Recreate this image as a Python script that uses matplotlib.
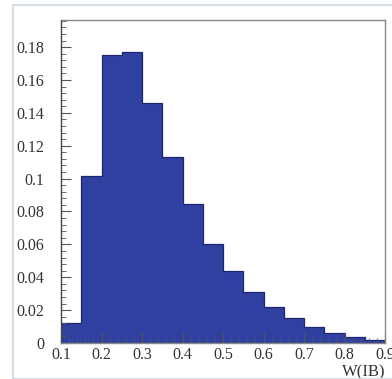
import numpy as np
import matplotlib.pyplot as plt
from matplotlib.patches import Rectangle
from matplotlib.ticker import MultipleLocator

# bin edges of W(IB) and normalised bin contents
bin_edges = [0.10, 0.15, 0.20, 0.25, 0.30, 0.35, 0.40, 0.45, 0.50,
             0.55, 0.60, 0.65, 0.70, 0.75, 0.80, 0.85, 0.90]
bin_values = [0.0123, 0.1018, 0.1750, 0.1768, 0.1460, 0.1133, 0.0843, 0.0600,
              0.0440, 0.0312, 0.0221, 0.0150, 0.0099, 0.0059, 0.0038, 0.0018]
x_ticks = [0.1, 0.2, 0.3, 0.4, 0.5, 0.6, 0.7, 0.8, 0.9]
y_ticks = [0, 0.02, 0.04, 0.06, 0.08, 0.1, 0.12, 0.14, 0.16, 0.18]

plt.rcParams['font.family'] = ['Liberation Serif', 'DejaVu Serif']

fig = plt.figure(figsize=(3.92, 3.79), dpi=100)
fig.patches.append(Rectangle((13 / 392, 0), 1.0, 1 - 5 / 379, transform=fig.transFigure,
                             fill=False, edgecolor='#d5dee5', linewidth=1.5))
ax = fig.add_axes([61 / 392, 36 / 379, 324 / 392, 323 / 379])

# filled histogram + darker outline, like a ROOT TH1
ax.stairs(bin_values, bin_edges, fill=True, color='#3040a0')
ax.stairs(bin_values, bin_edges, color='#1c2670', linewidth=0.9)

ax.set_xlim(0.1, 0.9)
ax.set_ylim(0, 0.1965)
ax.set_xticks(x_ticks)
ax.set_xticklabels(['0.1', '0.2', '0.3', '0.4', '0.5', '0.6', '0.7', '0.8', '0.9'])
ax.set_yticks(y_ticks)
ax.set_yticklabels(['0', '0.02', '0.04', '0.06', '0.08', '0.1', '0.12', '0.14', '0.16', '0.18'])
ax.yaxis.set_minor_locator(MultipleLocator(0.004))
ax.xaxis.set_minor_locator(MultipleLocator(0.02))

ax.tick_params(axis='both', which='both', direction='in', colors='#555555',
               labelcolor='#333333', labelsize=11.5)
ax.tick_params(axis='y', which='major', length=7, pad=12)
ax.tick_params(axis='y', which='minor', length=3.5)
ax.tick_params(axis='x', which='major', length=7, pad=3)
ax.tick_params(axis='x', which='minor', length=3.5)

for s in ax.spines.values():
    s.set_color('#888888')
    s.set_linewidth(1.0)
ax.spines['left'].set_color('#444444')

ax.set_xlabel('W(IB)', fontsize=12, color='#333333', loc='right', labelpad=1)

fig.savefig('out.png', dpi=100)
